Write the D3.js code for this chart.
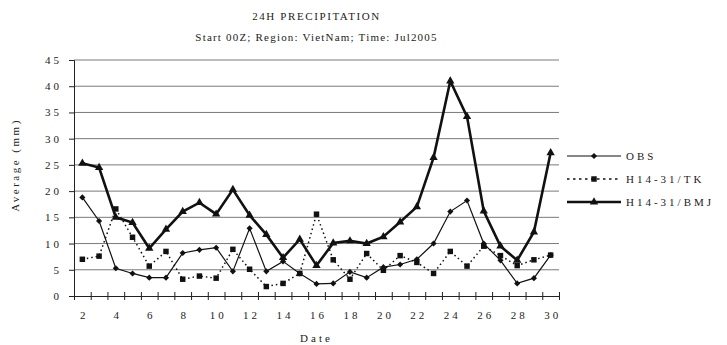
<!doctype html>
<html lang="en">
<head>
  <meta charset="UTF-8">
  <title>24H Precipitation</title>
  <script src="https://cdn.jsdelivr.net/npm/d3@7"></script>
  <style>
    body { margin: 0; background: white; }
    text { font-family: "Liberation Serif", "DejaVu Serif", serif; fill: #222; }
  </style>
</head>
<body>
<div id="container"></div>
<script type="text/javascript">
var dates = d3.range(2, 31);
var xLabels = [2, 4, 6, 8, 10, 12, 14, 16, 18, 20, 22, 24, 26, 28, 30];
var yTicks = [0, 5, 10, 15, 20, 25, 30, 35, 40, 45];

var obs = [18.8, 14.3, 5.3, 4.3, 3.5, 3.5, 8.2, 8.8, 9.2, 4.7, 12.9, 4.7, 6.6,
           4.3, 2.3, 2.4, 4.6, 3.5, 5.5, 6.0, 7.0, 10.0, 16.1, 18.2, 10.0, 6.8, 2.4, 3.4, 7.8];
var tk = [7.0, 7.6, 16.6, 11.2, 5.7, 8.5, 3.2, 3.8, 3.4, 8.9, 5.1, 1.8, 2.4,
          4.3, 15.6, 6.9, 3.2, 8.1, 4.9, 7.7, 6.4, 4.3, 8.5, 5.7, 9.5, 7.7, 5.8, 6.9, 7.8];
var bmj = [25.3, 24.5, 15.0, 14.0, 9.1, 12.7, 16.1, 17.8, 15.6, 20.3, 15.4, 11.7, 7.3,
           10.8, 5.8, 10.1, 10.5, 10.0, 11.3, 14.1, 17.0, 26.4, 41.0, 34.2, 16.2, 9.5, 6.8, 12.2, 27.3];

var seriesNames = ['OBS', 'H14-31/TK', 'H14-31/BMJ'];

var W = 727, H = 345;
var plotLeft = 74, plotRight = 559, plotTop = 60, plotBottom = 296;

var svg = d3.select('#container').append('svg')
  .attr('width', W)
  .attr('height', H);

var x = d3.scaleLinear().domain([1.5, 30.5]).range([plotLeft, plotRight]);
var y = d3.scaleLinear().domain([0, 45]).range([plotBottom, plotTop]);

// gridlines
svg.append('g')
  .selectAll('line')
  .data(yTicks.slice(1))
  .enter().append('line')
  .attr('x1', plotLeft).attr('x2', plotRight)
  .attr('y1', function(d) { return y(d); })
  .attr('y2', function(d) { return y(d); })
  .attr('stroke', '#7a7a7a')
  .attr('stroke-width', 1);

// y axis
var yAxis = svg.append('g')
  .attr('transform', 'translate(' + plotLeft + ',0)')
  .call(d3.axisLeft(y).tickValues(yTicks).tickSize(5).tickPadding(10));
yAxis.select('.domain').attr('stroke', '#222');
yAxis.selectAll('.tick line').attr('stroke', '#222');
yAxis.selectAll('text')
  .style('font-size', '11px')
  .style('letter-spacing', '3px')
  .attr('dx', '3px');

// x axis: tick marks at category boundaries
var xBounds = d3.range(1.5, 31, 1);
var xAxis = svg.append('g')
  .attr('transform', 'translate(0,' + plotBottom + ')')
  .call(d3.axisBottom(x).tickValues(xBounds).tickSize(4).tickFormat(''));
xAxis.select('.domain').attr('stroke', '#222');
xAxis.selectAll('.tick line').attr('stroke', '#222').attr('y1', -4);

// x labels at category centres
var xLab = svg.append('g')
  .attr('transform', 'translate(0,' + plotBottom + ')')
  .call(d3.axisBottom(x).tickValues(xLabels).tickSize(0).tickPadding(15));
xLab.select('.domain').remove();
xLab.selectAll('text')
  .style('font-size', '11px')
  .style('letter-spacing', '3px')
  .attr('dx', '1.5px');

// lines
function drawSeries(values, opts) {
  var pts = values.map(function(v, i) { return [dates[i], v]; });
  var line = d3.line()
    .x(function(d) { return x(d[0]); })
    .y(function(d) { return y(d[1]); });
  svg.append('path')
    .datum(pts)
    .attr('d', line)
    .attr('fill', 'none')
    .attr('stroke', '#111')
    .attr('stroke-width', opts.width)
    .attr('stroke-dasharray', opts.dash || null)
    .attr('stroke-linejoin', 'miter');
  svg.append('g')
    .selectAll('path')
    .data(pts)
    .enter().append('path')
    .attr('transform', function(d) { return 'translate(' + x(d[0]) + ',' + y(d[1]) + ')'; })
    .attr('d', opts.symbol)
    .attr('fill', '#111');
}

var diamond = d3.symbol().type(d3.symbolDiamond2).size(24)();
var square = d3.symbol().type(d3.symbolSquare).size(30)();
var triangle = d3.symbol().type(d3.symbolTriangle).size(30)();

drawSeries(tk, { width: 1.5, dash: '1.5,3', symbol: square });
drawSeries(obs, { width: 1.2, symbol: diamond });
drawSeries(bmj, { width: 2.6, symbol: triangle });

// legend
var legendStyles = [
  { width: 1.2, dash: null, symbol: diamond },
  { width: 1.5, dash: '2.5,3.5', symbol: square },
  { width: 2.6, dash: null, symbol: triangle }
];
var legend = svg.append('g');
seriesNames.forEach(function(name, i) {
  var ly = 156 + i * 23;
  legend.append('line')
    .attr('x1', 567).attr('x2', 621)
    .attr('y1', ly).attr('y2', ly)
    .attr('stroke', '#111')
    .attr('stroke-width', legendStyles[i].width)
    .attr('stroke-dasharray', legendStyles[i].dash);
  legend.append('path')
    .attr('transform', 'translate(594,' + ly + ')')
    .attr('d', legendStyles[i].symbol)
    .attr('fill', '#111');
  legend.append('text')
    .attr('x', 626).attr('y', ly + 4)
    .style('font-size', '11px')
    .style('letter-spacing', '3px')
    .text(name);
});

// titles
svg.append('text')
  .attr('x', (plotLeft + plotRight) / 2).attr('y', 20)
  .attr('text-anchor', 'middle')
  .style('font-size', '11px')
  .style('letter-spacing', '1.6px')
  .text('24H PRECIPITATION');
svg.append('text')
  .attr('x', (plotLeft + plotRight) / 2).attr('y', 41)
  .attr('text-anchor', 'middle')
  .style('font-size', '11px')
  .style('letter-spacing', '1.2px')
  .text('Start 00Z; Region: VietNam; Time: Jul2005');

svg.append('text')
  .attr('x', (plotLeft + plotRight) / 2).attr('y', 342)
  .attr('text-anchor', 'middle')
  .style('font-size', '11px')
  .style('letter-spacing', '3px')
  .text('Date');

svg.append('text')
  .attr('transform', 'translate(19,165) rotate(-90)')
  .attr('text-anchor', 'middle')
  .style('font-size', '11px')
  .style('letter-spacing', '2.5px')
  .text('Average (mm)');
</script>
</body>
</html>
